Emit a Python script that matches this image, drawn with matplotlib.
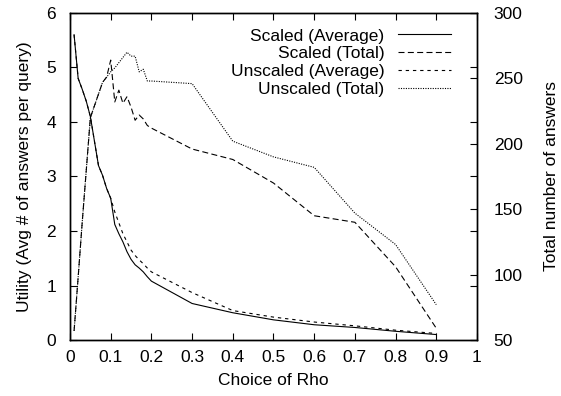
import matplotlib
matplotlib.use("Agg")
import matplotlib.pyplot as plt

plt.rcParams['font.family'] = ['Liberation Sans', 'DejaVu Sans']
plt.rcParams['font.size'] = 12.5

rho = [0.01, 0.02, 0.03, 0.04, 0.05, 0.06, 0.07, 0.08, 0.09, 0.10,
       0.11, 0.12, 0.13, 0.14, 0.15, 0.16, 0.17, 0.18, 0.19, 0.20,
       0.3, 0.4, 0.5, 0.6, 0.7, 0.8, 0.9]

scaled_avg = [5.6, 4.8, 4.6, 4.38, 4.1, 3.65, 3.2, 3.02, 2.78, 2.6,
              2.12, 1.95, 1.8, 1.62, 1.48, 1.38, 1.32, 1.25, 1.16, 1.08,
              0.67, 0.5, 0.37, 0.28, 0.23, 0.16, 0.1]
unscaled_avg = [5.6, 4.8, 4.6, 4.38, 4.1, 3.65, 3.2, 3.02, 2.78, 2.6,
                2.35, 2.15, 1.95, 1.8, 1.65, 1.55, 1.47, 1.4, 1.32, 1.25,
                0.87, 0.54, 0.42, 0.33, 0.26, 0.18, 0.12]

scaled_total = [57, 98, 140, 180, 220, 229, 238, 247, 251, 264,
                232, 241, 231, 236, 228, 218, 222, 219, 214, 212,
                196, 188, 170, 145, 140, 106, 59]
unscaled_total = [57, 98, 140, 180, 220, 229, 238, 247, 251, 255,
                  258, 262, 266, 270, 267, 267, 255, 257, 248, 248,
                  246, 202, 190, 182, 147, 123, 77]

x_ticks = [0, 0.1, 0.2, 0.3, 0.4, 0.5, 0.6, 0.7, 0.8, 0.9, 1]
x_tick_labels = ["0", "0.1", "0.2", "0.3", "0.4", "0.5", "0.6", "0.7", "0.8", "0.9", "1"]
left_ticks = [0, 1, 2, 3, 4, 5, 6]
right_ticks = [50, 100, 150, 200, 250, 300]


def main():
  fig = plt.figure(figsize=(5.61, 3.96), dpi=100)
  ax = fig.add_axes([0.1248, 0.1414, 0.7254, 0.8258])
  ax2 = ax.twinx()

  lw = 0.8
  l1, = ax.plot(rho, scaled_avg, color="black", lw=lw, label="Scaled (Average)")
  l2, = ax2.plot(rho, scaled_total, color="black", lw=lw, dashes=(5.4, 3), label="Scaled (Total)")
  l3, = ax.plot(rho, unscaled_avg, color="black", lw=lw, dashes=(3, 3.5), label="Unscaled (Average)")
  l4, = ax2.plot(rho, unscaled_total, color="black", lw=lw, dashes=(1, 1.2), label="Unscaled (Total)")

  ax.set_xlim(0, 1)
  ax.set_ylim(0, 6)
  ax2.set_ylim(50, 300)
  ax.set_xticks(x_ticks)
  ax.set_xticklabels(x_tick_labels)
  ax.set_yticks(left_ticks)
  ax2.set_yticks(right_ticks)

  ax.tick_params(direction="in", top=True, right=True, length=5, width=0.8)
  ax.tick_params(axis="x", pad=7)
  ax.tick_params(axis="y", pad=10)
  ax2.tick_params(direction="in", length=5, width=0.8, pad=12)
  for a in (ax, ax2):
    for s in a.spines.values():
      s.set_linewidth(1.0)

  ax.set_xlabel("Choice of Rho", labelpad=6)
  ax.set_ylabel("Utility (Avg # of answers per query)", labelpad=10)
  ax2.set_ylabel("Total number of answers", labelpad=15)

  ax2.legend(handles=[l1, l2, l3, l4], loc="upper right", frameon=False,
             bbox_to_anchor=(0.965, 0.99), markerfirst=False,
             handlelength=3.0, handletextpad=0.8,
             labelspacing=0.15, borderaxespad=0.4, borderpad=0.3)

  fig.savefig("out.png", dpi=100)


if __name__ == "__main__":
  main()
